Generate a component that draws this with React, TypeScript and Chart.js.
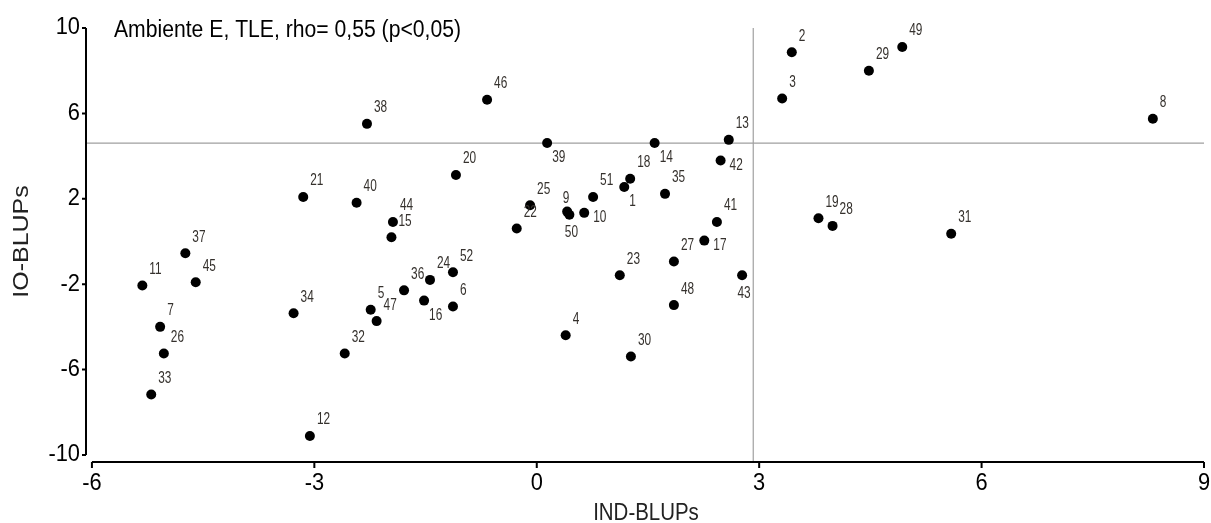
import React, { useEffect, useRef } from "react";
import { Chart, registerables } from "chart.js";

Chart.register(...registerables);

// Genotype identifiers
const genotypes: string[] = [
  "1", "2", "3", "4", "5", "6", "7", "8", "9", "10",
  "11", "12", "13", "14", "15", "16", "17", "18", "19", "20",
  "21", "22", "23", "24", "25", "26", "27", "28", "29", "30",
  "31", "32", "33", "34", "35", "36", "37", "38", "39", "40",
  "41", "42", "43", "44", "45", "46", "47", "48", "49", "50",
  "51", "52",
];

// IND-BLUPs (x)
const indBlups: number[] = [
  1.18, 3.44, 3.31, 0.39, -2.24, -1.13, -5.08, 8.31, 0.41, 0.64,
  -5.32, -3.06, 2.59, 1.59, -1.96, -1.52, 2.26, 1.26, 3.80, -1.09,
  -3.15, -0.27, 1.12, -1.44, -0.09, -5.03, 1.85, 3.99, 4.48, 1.27,
  5.59, -2.59, -5.20, -3.28, 1.73, -1.79, -4.74, -2.29, 0.14, -2.43,
  2.43, 2.48, 2.77, -1.94, -4.60, -0.67, -2.16, 1.85, 4.93, 0.44,
  0.76, -1.13,
];

// IO-BLUPs (y)
const ioBlups: number[] = [
  2.55, 8.86, 6.70, -4.39, -3.20, -3.05, -4.00, 5.75, 1.40, 1.34,
  -2.06, -9.11, 4.76, 4.61, 0.20, -2.77, 0.04, 2.94, 1.09, 3.11,
  2.08, 0.61, -1.58, -1.80, 1.70, -5.25, -0.94, 0.73, 8.00, -5.39,
  0.36, -5.25, -7.17, -3.36, 2.23, -2.29, -0.55, 5.51, 4.61, 1.81,
  0.91, 3.79, -1.58, 0.91, -1.91, 6.64, -3.73, -2.98, 9.11, 1.25,
  2.08, -1.44,
];

// Where each point label sits relative to its point (ur = up-right default)
const labelPlacement: Record<string, string> = {
  "39": "br", "14": "br", "1": "br", "16": "br",
  "42": "r", "10": "r", "17": "r",
  "9": "u", "50": "b", "43": "b",
};

const xTicks: number[] = [-6, -3, 0, 3, 6, 9];
const yTicks: number[] = [-10, -6, -2, 2, 6, 10];

const refLineY = 4.61;
const refLineX = 2.92;

const titleText = "Ambiente E, TLE, rho= 0,55 (p<0,05)";
const xTitle = "IND-BLUPs";
const yTitle = "IO-BLUPs";

const FAMILY = '"Liberation Sans", Arial, sans-serif';

function drawText(
  ctx: CanvasRenderingContext2D,
  text: string,
  x: number,
  y: number,
  size: number,
  color: string,
  align: CanvasTextAlign,
  baseline: CanvasTextBaseline,
  sx: number,
  rotate = false
) {
  ctx.save();
  ctx.translate(x, y);
  ctx.scale(sx, 1);
  if (rotate) ctx.rotate(-Math.PI / 2);
  ctx.font = `${size}px ${FAMILY}`;
  ctx.fillStyle = color;
  ctx.textAlign = align;
  ctx.textBaseline = baseline;
  ctx.fillText(text, 0, 0);
  ctx.restore();
}

const decorPlugin = {
  id: "decor",
  beforeDatasetsDraw(chart: any) {
    const { ctx, chartArea, scales } = chart;
    const xs = scales.x;
    const ys = scales.y;
    ctx.save();
    ctx.strokeStyle = "#a0a0a0";
    ctx.lineWidth = 1.2;
    const py = ys.getPixelForValue(refLineY);
    const px = xs.getPixelForValue(refLineX);
    ctx.beginPath();
    ctx.moveTo(chartArea.left, py);
    ctx.lineTo(chartArea.right, py);
    ctx.moveTo(px, chartArea.top);
    ctx.lineTo(px, chartArea.bottom);
    ctx.stroke();
    ctx.restore();
  },
  afterDatasetsDraw(chart: any) {
    const { ctx, chartArea, scales } = chart;
    const xs = scales.x;
    const ys = scales.y;
    const meta = chart.getDatasetMeta(0);

    // point labels
    meta.data.forEach((el: any, i: number) => {
      const id = genotypes[i];
      const p = labelPlacement[id] || "ur";
      let dx = 7, dy = -16, align: CanvasTextAlign = "left";
      if (p === "br") { dx = 5; dy = 15; }
      else if (p === "r") { dx = 9; dy = 5; }
      else if (p === "u") { dx = -1; dy = -13; align = "center"; }
      else if (p === "b") { dx = 2; dy = 18; align = "center"; }
      drawText(ctx, id, el.x + dx, el.y + dy, 16, "#35312d", align, "middle", 0.74);
    });

    ctx.save();
    ctx.strokeStyle = "#000";
    ctx.lineWidth = 2;
    // x axis
    const yb = chartArea.bottom;
    ctx.beginPath();
    ctx.moveTo(xs.getPixelForValue(xTicks[0]), yb);
    ctx.lineTo(xs.getPixelForValue(xTicks[xTicks.length - 1]), yb);
    xTicks.forEach((t) => {
      const x = xs.getPixelForValue(t);
      ctx.moveTo(x, yb);
      ctx.lineTo(x, yb + 6);
    });
    // y axis
    const xl = chartArea.left;
    ctx.moveTo(xl, ys.getPixelForValue(yTicks[0]));
    ctx.lineTo(xl, ys.getPixelForValue(yTicks[yTicks.length - 1]));
    yTicks.forEach((t) => {
      const y = ys.getPixelForValue(t);
      ctx.moveTo(xl, y);
      ctx.lineTo(xl - 4, y);
    });
    ctx.stroke();
    ctx.restore();

    xTicks.forEach((t) => {
      drawText(ctx, String(t), xs.getPixelForValue(t), yb + 22, 23, "#000", "center", "middle", 0.95);
    });
    yTicks.forEach((t) => {
      drawText(ctx, String(t), xl - 6, ys.getPixelForValue(t), 23, "#000", "right", "middle", 0.95);
    });

    drawText(ctx, titleText, 114, 37, 23, "#000", "left", "alphabetic", 0.92);
    drawText(ctx, xTitle, (chartArea.left + chartArea.right) / 2 + 1, 520, 23.5, "#222", "center", "alphabetic", 0.87);
    drawText(ctx, yTitle, 28, (ys.getPixelForValue(yTicks[0]) + ys.getPixelForValue(yTicks[yTicks.length - 1])) / 2, 25, "#222", "center", "alphabetic", 0.85, true);
  },
};

export default function App() {
  const ref = useRef<HTMLCanvasElement | null>(null);
  useEffect(() => {
    if (!ref.current) return;
    const chart = new Chart(ref.current, {
      type: "scatter",
      data: {
        datasets: [
          {
            data: genotypes.map((_, i) => ({ x: indBlups[i], y: ioBlups[i] })),
            backgroundColor: "#000",
            borderColor: "#000",
            borderWidth: 0,
            pointRadius: 5,
            pointHoverRadius: 5,
          },
        ],
      },
      options: {
        animation: false,
        responsive: false,
        devicePixelRatio: 1,
        layout: { padding: { left: 86, right: 7, top: 28, bottom: 61 } },
        plugins: { legend: { display: false }, tooltip: { enabled: false } },
        events: [],
        scales: {
          x: { type: "linear", min: -6.08, max: 9.0, display: false },
          y: { type: "linear", min: -10.33, max: 10.0, display: false },
        },
      },
      plugins: [decorPlugin],
    });
    return () => chart.destroy();
  }, []);
  return (
    <div style={{ position: "fixed", left: 0, top: 0, width: 1211, height: 523, background: "#fff" }}>
      <canvas ref={ref} width={1211} height={523} />
    </div>
  );
}
